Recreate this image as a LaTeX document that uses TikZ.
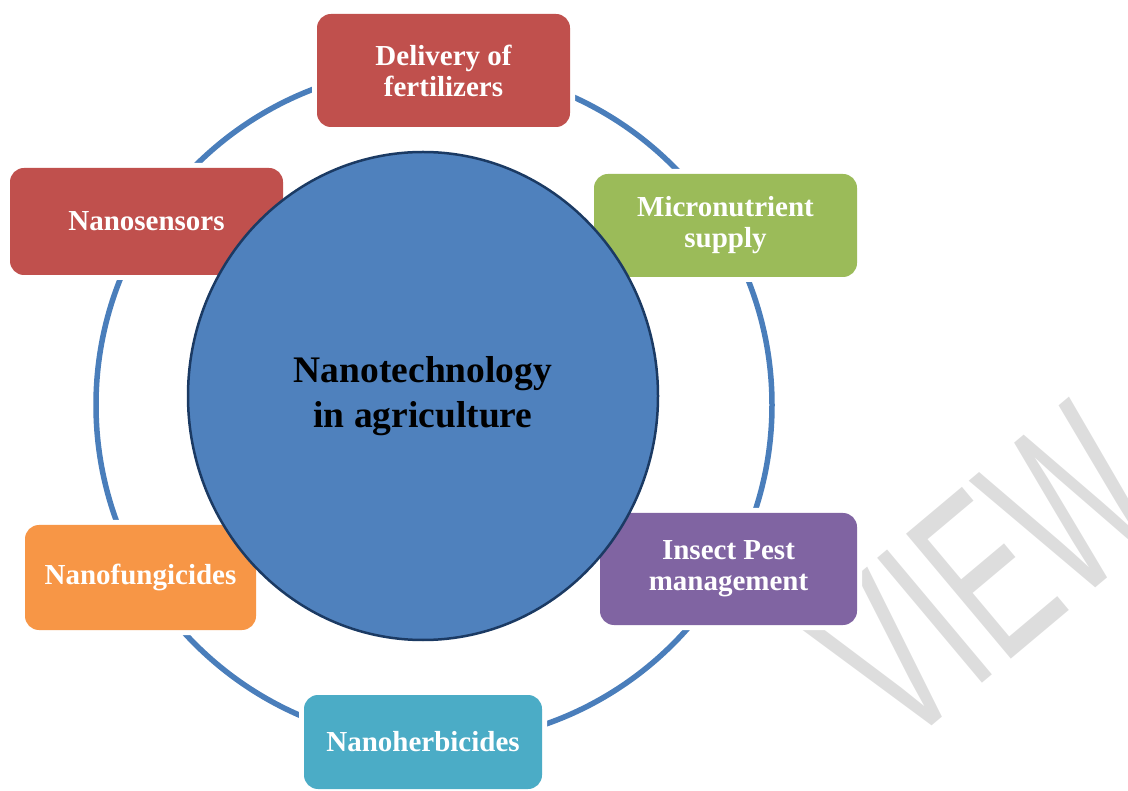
\documentclass[tikz,border=0pt]{standalone}
\usepackage{fontspec}
\usepackage{graphicx}
\setmainfont{Liberation Serif}
\newfontfamily\wmfont{Liberation Sans}
\usetikzlibrary{shapes.geometric}
\definecolor{boxred}{HTML}{C0504D}
\definecolor{boxgreen}{HTML}{9BBB59}
\definecolor{boxpurple}{HTML}{8064A2}
\definecolor{boxorange}{HTML}{F79646}
\definecolor{boxaqua}{HTML}{4BACC6}
\definecolor{hubblue}{HTML}{4F81BD}
\definecolor{hubedge}{HTML}{1B3A63}
\definecolor{ringblue}{HTML}{4A7EBB}
\definecolor{wmgray}{HTML}{DDDDDD}
\begin{document}
\begin{tikzpicture}[x=1pt,y=-1pt,
  box/.style={rounded corners=14pt, inner sep=0pt, align=center, text=white,
    font=\bfseries\fontsize{29}{31}\selectfont,
    preaction={draw=white, line width=10pt}},
  ringline/.style={draw=ringblue, line width=5.5pt},
  hub/.style={ellipse, fill=hubblue, draw=hubedge, line width=2.5pt,
    minimum width=470pt, minimum height=488pt, inner sep=0pt, align=center,
    text=black, font=\bfseries\fontsize{37.5}{45}\selectfont}
]
\useasboundingbox (0,0) rectangle (1128,791);
% watermark
\node[rotate=40, anchor=base west, text=wmgray, inner sep=0pt,
  font=\wmfont\fontsize{237}{237}\selectfont] (wm) at (901,752) {\scalebox{0.59}[1]{VIEW}};
% ring
\coordinate (rc) at (434,405);
\draw[ringline] (rc) circle [radius=338];
% boxes
\node[box, fill=boxred, minimum width=253pt, minimum height=113pt] (deliv) at (443.5,70.5) {Delivery of\\fertilizers};
\node[box, fill=boxred, minimum width=273pt, minimum height=107pt] (sensor) at (146.5,221.5) {Nanosensors};
\node[box, fill=boxgreen, minimum width=263pt, minimum height=103pt] (micro) at (725.5,225.5) {Micronutrient\\supply};
\node[box, fill=boxorange, minimum width=231pt, minimum height=105pt] (fung) at (140.5,577.5) {Nanofungicides};
\node[box, fill=boxpurple, minimum width=257pt, minimum height=112pt] (pest) at (728.5,569) {Insect Pest\\management};
\node[box, fill=boxaqua, minimum width=238pt, minimum height=94pt] (herb) at (423,742) {Nanoherbicides};
% hub
\node[hub] (hubnode) at (423,396) {Nanotechnology\\in agriculture};
\end{tikzpicture}
\end{document}
